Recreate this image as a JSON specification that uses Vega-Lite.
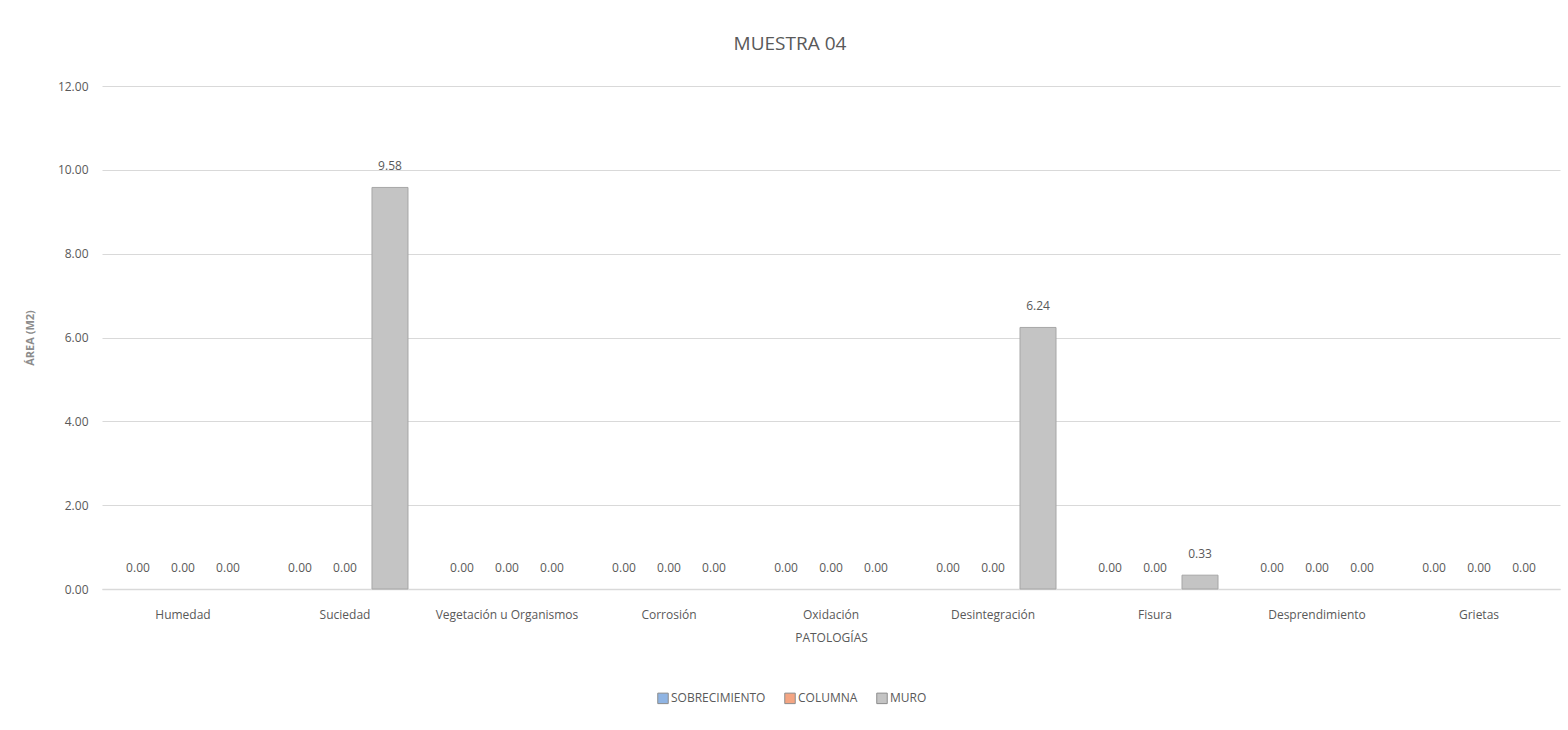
{
  "$schema": "https://vega.github.io/schema/vega-lite/v6.json",
  "width": 1458,
  "height": 503,
  "autosize": {"type": "none"},
  "padding": {"left": 102, "top": 86, "right": 8, "bottom": 141},
  "background": "white",
  "title": {
    "text": "MUESTRA 04",
    "anchor": "middle",
    "dx": -41,
    "offset": 26,
    "fontSize": 19,
    "fontWeight": "normal",
    "color": "#595959",
    "font": "Liberation Sans Narrow, Open Sans, sans-serif"
  },
  "config": {
    "view": {"stroke": null},
    "font": "Liberation Sans Narrow, Open Sans, sans-serif",
    "axis": {"labelFont": "Liberation Sans Narrow, Open Sans, sans-serif", "titleFont": "Liberation Sans Narrow, Open Sans, sans-serif"},
    "legend": {"labelFont": "Liberation Sans Narrow, Open Sans, sans-serif"}
  },
  "data": {
    "values": [
      {"cat": "Humedad", "serie": "SOBRECIMIENTO", "area": 0},
      {"cat": "Humedad", "serie": "COLUMNA", "area": 0},
      {"cat": "Humedad", "serie": "MURO", "area": 0},
      {"cat": "Suciedad", "serie": "SOBRECIMIENTO", "area": 0},
      {"cat": "Suciedad", "serie": "COLUMNA", "area": 0},
      {"cat": "Suciedad", "serie": "MURO", "area": 9.58},
      {"cat": "Vegetación u Organismos", "serie": "SOBRECIMIENTO", "area": 0},
      {"cat": "Vegetación u Organismos", "serie": "COLUMNA", "area": 0},
      {"cat": "Vegetación u Organismos", "serie": "MURO", "area": 0},
      {"cat": "Corrosión", "serie": "SOBRECIMIENTO", "area": 0},
      {"cat": "Corrosión", "serie": "COLUMNA", "area": 0},
      {"cat": "Corrosión", "serie": "MURO", "area": 0},
      {"cat": "Oxidación", "serie": "SOBRECIMIENTO", "area": 0},
      {"cat": "Oxidación", "serie": "COLUMNA", "area": 0},
      {"cat": "Oxidación", "serie": "MURO", "area": 0},
      {"cat": "Desintegración", "serie": "SOBRECIMIENTO", "area": 0},
      {"cat": "Desintegración", "serie": "COLUMNA", "area": 0},
      {"cat": "Desintegración", "serie": "MURO", "area": 6.24},
      {"cat": "Fisura", "serie": "SOBRECIMIENTO", "area": 0},
      {"cat": "Fisura", "serie": "COLUMNA", "area": 0},
      {"cat": "Fisura", "serie": "MURO", "area": 0.33},
      {"cat": "Desprendimiento", "serie": "SOBRECIMIENTO", "area": 0},
      {"cat": "Desprendimiento", "serie": "COLUMNA", "area": 0},
      {"cat": "Desprendimiento", "serie": "MURO", "area": 0},
      {"cat": "Grietas", "serie": "SOBRECIMIENTO", "area": 0},
      {"cat": "Grietas", "serie": "COLUMNA", "area": 0},
      {"cat": "Grietas", "serie": "MURO", "area": 0}
    ]
  },
  "encoding": {
    "x": {
      "field": "cat",
      "type": "nominal",
      "sort": null,
      "scale": {"paddingInner": 0.1667, "paddingOuter": 0.0833},
      "axis": {
        "title": "PATOLOGÍAS",
        "titleFontSize": 12,
        "titleFontWeight": "normal",
        "titleColor": "#595959",
        "titlePadding": 12,
        "labelAngle": 0,
        "labelFontSize": 12,
        "labelColor": "#595959",
        "labelPadding": 20,
        "ticks": false,
        "domainColor": "#d9d9d9",
        "domainWidth": 1.5,
        "grid": false
      }
    },
    "xOffset": {
      "field": "serie",
      "type": "nominal",
      "sort": ["SOBRECIMIENTO", "COLUMNA", "MURO"],
      "scale": {"paddingInner": 0.2, "paddingOuter": 0.1}
    },
    "y": {
      "field": "area",
      "type": "quantitative",
      "scale": {"domain": [0, 12], "nice": false},
      "axis": {
        "title": "ÁREA (M2)",
        "titleFontSize": 11,
        "titleFontWeight": "bold",
        "titleColor": "#8c8c8c",
        "titlePadding": 22,
        "values": [0, 2, 4, 6, 8, 10, 12],
        "format": ".2f",
        "labelFontSize": 12,
        "labelColor": "#595959",
        "labelPadding": 14,
        "ticks": false,
        "domain": false,
        "gridColor": "#d9d9d9",
        "gridWidth": 1
      }
    }
  },
  "layer": [
    {
      "mark": {"type": "bar", "stroke": "#a6a6a6", "strokeWidth": 1},
      "encoding": {
        "strokeOpacity": {"condition": {"test": "datum.area > 0", "value": 1}, "value": 0},
        "color": {
          "field": "serie",
          "type": "nominal",
          "sort": ["SOBRECIMIENTO", "COLUMNA", "MURO"],
          "scale": {"domain": ["SOBRECIMIENTO", "COLUMNA", "MURO"], "range": ["#8fb4e3", "#f4a582", "#c4c4c4"]},
          "legend": {
            "title": null,
            "orient": "none",
            "legendX": 555,
            "legendY": 606,
            "direction": "horizontal",
            "symbolType": "square",
            "symbolSize": 110,
            "symbolStrokeWidth": 1,
            "symbolStrokeColor": "#8c8c8c",
            "labelFontSize": 12,
            "labelColor": "#595959",
            "labelOffset": 2,
            "columnPadding": 16
          }
        }
      }
    },
    {
      "mark": {"type": "text", "baseline": "bottom", "dy": -14, "fontSize": 12, "color": "#595959"},
      "encoding": {
        "text": {"field": "area", "type": "quantitative", "format": ".2f"}
      }
    }
  ]
}
